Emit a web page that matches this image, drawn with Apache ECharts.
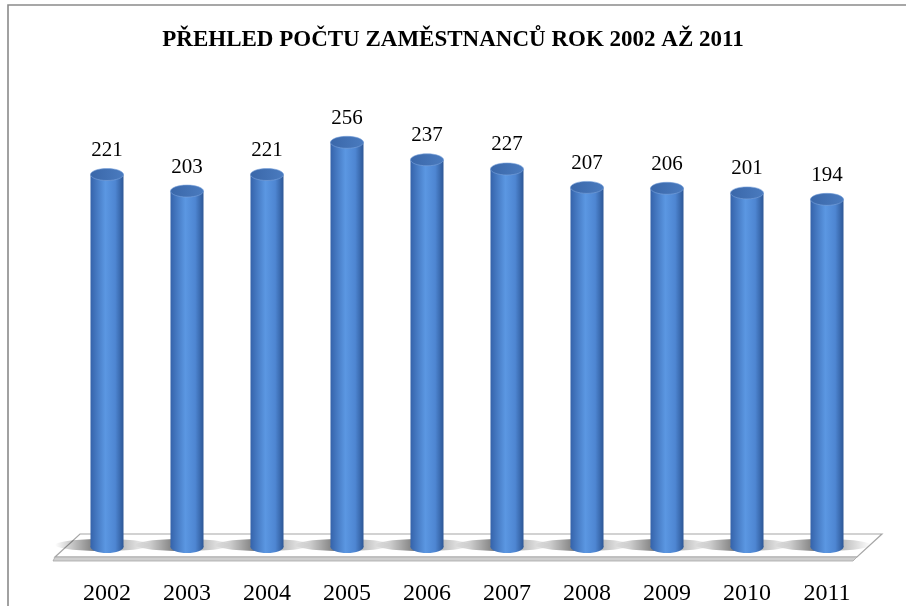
<!DOCTYPE html>
<html>
<head>
<meta charset="utf-8">
<script src="https://cdn.jsdelivr.net/npm/echarts@6/dist/echarts.min.js"></script>
<style>
  html, body { margin: 0; padding: 0; background: #fff; }
  #chart { width: 906px; height: 606px; }
</style>
</head>
<body>
<div id="chart"></div>
<script>
const years = ['2002', '2003', '2004', '2005', '2006', '2007', '2008', '2009', '2010', '2011'];
const employees = [221, 203, 221, 256, 237, 227, 207, 206, 201, 194];
const titleText = 'PŘEHLED POČTU ZAMĚSTNANCŮ ROK 2002 AŽ 2011';

// value axis is hidden; its range puts the cylinder feet on the floor
const yMin = -184;
const yMax = 302;

const chart = echarts.init(document.getElementById('chart'));

const barWidth = 33;
const capRy = 6;

const bodyFill = new echarts.graphic.LinearGradient(0, 0, 1, 0, [
    { offset: 0, color: '#3563aa' },
    { offset: 0.45, color: '#5b97e2' },
    { offset: 0.75, color: '#4e86d2' },
    { offset: 1, color: '#2d5796' }
]);
const capFill = new echarts.graphic.LinearGradient(0, 0, 1, 0, [
    { offset: 0, color: '#3a67a9' },
    { offset: 1, color: '#4a7bbf' }
]);
const shadowFill = new echarts.graphic.LinearGradient(0, 0, 1, 0, [
    { offset: 0, color: 'rgba(0,0,0,0)' },
    { offset: 0.4, color: 'rgba(0,0,0,0.5)' },
    { offset: 0.6, color: 'rgba(0,0,0,0.35)' },
    { offset: 1, color: 'rgba(0,0,0,0)' }
]);

function renderCylinder(params, api) {
    const top = api.coord([api.value(0), api.value(1)]);
    const base = api.coord([api.value(0), yMin]);
    const x = top[0] - barWidth / 2;
    return {
        type: 'group',
        children: [
            {
                type: 'ellipse',
                shape: { cx: top[0] - 4, cy: base[1] - 2, rx: 48, ry: 6 },
                style: { fill: shadowFill }
            },
            {
                type: 'ellipse',
                shape: { cx: top[0], cy: base[1], rx: barWidth / 2, ry: capRy },
                style: { fill: bodyFill }
            },
            {
                type: 'rect',
                shape: { x: x, y: top[1], width: barWidth, height: base[1] - top[1] },
                style: { fill: bodyFill }
            },
            {
                type: 'ellipse',
                shape: { cx: top[0], cy: top[1], rx: barWidth / 2, ry: capRy },
                style: { fill: capFill, stroke: '#7aa3db', lineWidth: 0.6 }
            },
            {
                type: 'text',
                style: {
                    x: top[0], y: top[1] - 24,
                    text: String(api.value(1)),
                    align: 'center', verticalAlign: 'middle',
                    font: '21px "Liberation Serif", "Times New Roman", serif',
                    fill: '#000'
                }
            }
        ]
    };
}

const chartOptions = {
    animation: false,
    backgroundColor: '#fff',
    title: {
        text: titleText,
        left: 'center',
        top: 24,
        textStyle: {
            fontFamily: '"Liberation Serif", "Times New Roman", serif',
            fontWeight: 'bold',
            fontSize: 23,
            color: '#000'
        }
    },
    grid: { left: 67, right: 39, top: 100, bottom: 59 },
    xAxis: {
        type: 'category',
        data: years,
        axisLine: { show: false },
        axisTick: { show: false },
        axisLabel: {
            margin: 35,
            color: '#000',
            fontSize: 24,
            fontFamily: '"Liberation Serif", "Times New Roman", serif'
        }
    },
    yAxis: {
        type: 'value',
        min: yMin,
        max: yMax,
        show: false,
        splitLine: { show: false }
    },
    graphic: [
        {
            type: 'rect',
            z: -10,
            shape: { x: 8, y: 5, width: 1000, height: 1000 },
            style: { fill: 'none', stroke: '#8a8a8a', lineWidth: 1.6 }
        },
        {
            type: 'polygon',
            z: -5,
            shape: { points: [[80, 534], [882, 534], [857, 557], [55, 557]] },
            style: { fill: '#ffffff', stroke: '#a6a6a6', lineWidth: 1.2 }
        },
        {
            type: 'polygon',
            z: -5,
            shape: { points: [[55, 557], [857, 557], [853, 561], [53, 561]] },
            style: { fill: '#cfcfcf', stroke: '#a6a6a6', lineWidth: 0.8 }
        }
    ],
    series: [{
        type: 'custom',
        renderItem: renderCylinder,
        encode: { x: 0, y: 1 },
        data: employees.map((v, i) => [i, v])
    }]
};

chart.setOption(chartOptions);
</script>
</body>
</html>
